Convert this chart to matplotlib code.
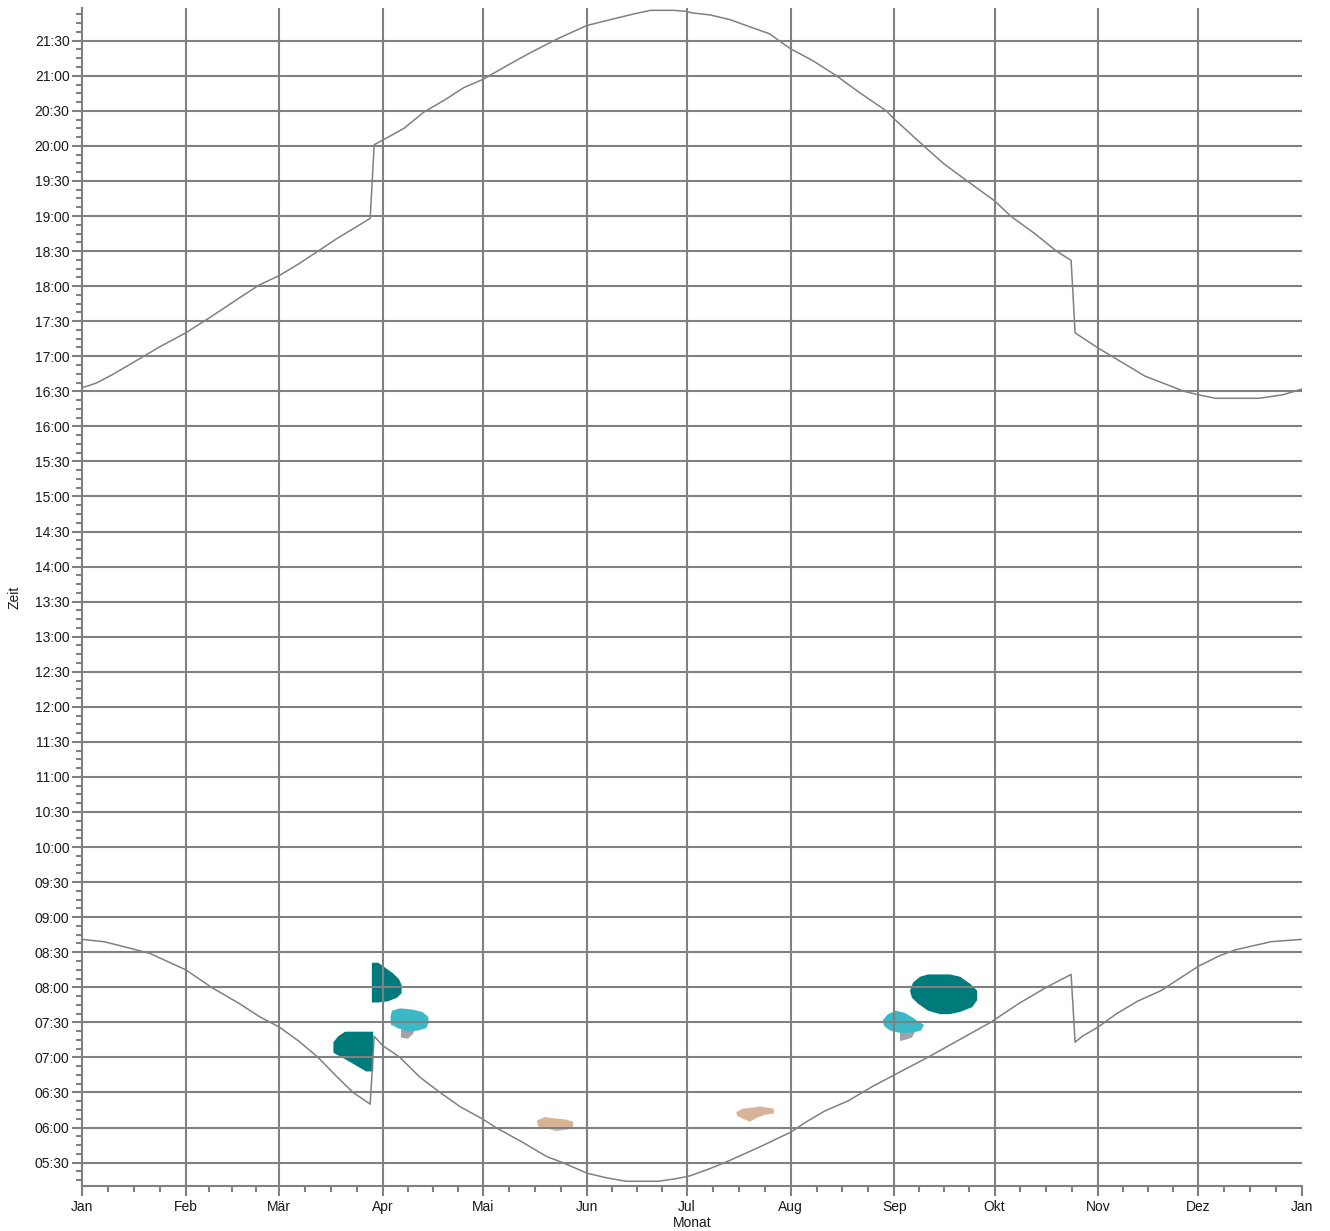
import matplotlib
matplotlib.use("Agg")
import matplotlib.pyplot as plt
from matplotlib.ticker import FixedLocator, FuncFormatter

plt.rcParams["font.family"] = ["Liberation Sans", "DejaVu Sans"]

# x axis: day of year (0 = 1 Jan), months as labels
MONTHS = ["Jan", "Feb", "Mär", "Apr", "Mai", "Jun", "Jul", "Aug", "Sep", "Okt", "Nov", "Dez", "Jan"]
MONTH_START = [0, 31, 59, 90, 120, 151, 181, 212, 243, 273, 304, 334, 365]

# sunset (upper line)
SUNSET_DAY = [0, 4.2, 8.9, 14.9, 23.2, 31, 38.7, 47.1, 53, 59, 64.8, 70.6, 76.4, 82.2, 86.2,
              87.4, 90, 96.3, 102.3, 108.3, 114.3, 120, 127.3, 134.3, 142.5, 151, 158, 165.2,
              170, 177.2, 181, 182.2, 188, 193.9, 199.7, 205.6, 212, 218.6, 225.7, 232.9, 240.6,
              243, 251.8, 257.7, 264.8, 273, 277.8, 285, 291.5, 295.9, 297.1, 304, 311, 318,
              329.7, 334, 339.1, 352.1, 359.2, 365]
SUNSET_TIME = ["16:33", "16:37", "16:44", "16:54", "17:08", "17:20", "17:34", "17:50", "18:01",
               "18:09", "18:19", "18:30", "18:41", "18:51", "18:58", "20:01", "20:05", "20:15",
               "20:29", "20:39", "20:50", "20:57", "21:09", "21:20", "21:32", "21:43", "21:48",
               "21:53", "21:56", "21:56", "21:55", "21:54", "21:52", "21:48", "21:42", "21:36",
               "21:23", "21:13", "21:00", "20:45", "20:30", "20:23", "20:00", "19:45", "19:30",
               "19:13", "19:00", "18:45", "18:30", "18:22", "17:20", "17:07", "16:55", "16:43",
               "16:30", "16:27", "16:24", "16:24", "16:27", "16:32"]

# sunrise (lower line)
SUNRISE_DAY = [0, 6.6, 14.9, 20.3, 25.6, 31, 38.7, 47.1, 53, 59, 64.8, 70.6, 76.4, 81.1, 86.2,
               87.4, 90, 95.1, 101.1, 107.1, 113, 120, 123.8, 132, 139.1, 143.8, 151, 156.8,
               162.8, 172.4, 177.2, 181, 182.2, 188, 193.9, 203.2, 212, 216.2, 222.1, 229.3,
               236.4, 243, 253, 262.4, 271.8, 280.2, 288.5, 295.9, 297.1, 299.2, 304, 309.3,
               315.7, 322.7, 334, 340.3, 345, 355.7, 365]
SUNRISE_TIME = ["8:41", "8:39", "8:33", "8:29", "8:22", "8:15", "8:00", "7:46", "7:35", "7:26",
                "7:14", "7:00", "6:43", "6:30", "6:20", "7:18", "7:10", "7:00", "6:43", "6:30",
                "6:18", "6:07", "6:00", "5:47", "5:35", "5:30", "5:21", "5:17", "5:14", "5:14",
                "5:16", "5:18", "5:19", "5:25", "5:32", "5:44", "5:56", "6:04", "6:14", "6:23",
                "6:35", "6:45", "7:00", "7:15", "7:30", "7:46", "8:00", "8:11", "7:13", "7:18",
                "7:26", "7:37", "7:48", "7:57", "8:18", "8:27", "8:32", "8:39", "8:41"]

# reflection periods (outline day / time of each patch)
SPRING_HIGH_DAY = [86.7, 88.6, 90.6, 93.0, 94.8, 95.6, 95.6, 94.2, 91.5, 88.6, 86.7]
SPRING_HIGH_TIME = ["8:21", "8:21", "8:17", "8:12", "8:07", "8:02", "7:55", "7:51", "7:48", "7:47", "7:47"]

SPRING_LOW_DAY = [87.1, 78.7, 76.6, 75.2, 75.2, 77.1, 80.2, 83.2, 85.0, 87.1]
SPRING_LOW_TIME = ["7:22", "7:22", "7:18", "7:13", "7:04", "7:01", "6:56", "6:51", "6:48", "6:48"]

SPRING_CYAN_DAY = [92.7, 95.1, 98.7, 101.7, 103.5, 103.8, 102.9, 100.5, 97.5, 94.5, 92.4, 92.3]
SPRING_CYAN_TIME = ["7:40", "7:42", "7:41", "7:39", "7:35", "7:30", "7:25", "7:23", "7:22", "7:25", "7:28", "7:35"]
SPRING_GREY_DAY = [95.4, 99.6, 99.0, 97.5, 95.4]
SPRING_GREY_TIME = ["7:24", "7:24", "7:20", "7:16", "7:17"]

MAY_TAN_DAY = [136.1, 138.5, 140.6, 144.5, 146.9, 146.9, 144.8, 141.8, 139.4, 136.4]
MAY_TAN_TIME = ["6:06", "6:09", "6:08", "6:07", "6:05", "6:00", "5:58", "5:57", "5:59", "6:01"]

JUL_TAN_DAY = [195.7, 197.5, 200.4, 202.8, 205.2, 207.0, 207.0, 204.4, 201.6, 199.8, 198.1, 196.0]
JUL_TAN_TIME = ["6:13", "6:16", "6:17", "6:18", "6:17", "6:16", "6:12", "6:11", "6:08", "6:05", "6:07", "6:10"]

SEP_CYAN_DAY = [239.6, 241.1, 243.5, 246.2, 248.6, 250.4, 251.9, 251.0, 248.3, 244.7, 241.7, 239.9]
SEP_CYAN_TIME = ["7:32", "7:37", "7:40", "7:38", "7:34", "7:30", "7:28", "7:23", "7:21", "7:21", "7:23", "7:27"]
SEP_GREY_DAY = [244.7, 249.2, 248.3, 246.2, 244.7]
SEP_GREY_TIME = ["7:22", "7:22", "7:17", "7:15", "7:14"]

SEP_HIGH_DAY = [247.7, 248.6, 250.7, 253.1, 259.7, 262.7, 265.7, 267.8, 267.8, 266.3, 262.7, 259.7,
                256.7, 253.1, 250.1, 248.3]
SEP_HIGH_TIME = ["7:57", "8:04", "8:09", "8:11", "8:11", "8:09", "8:03", "7:57", "7:49", "7:43",
                 "7:39", "7:37", "7:37", "7:40", "7:46", "7:51"]

Y_LIMITS = ["5:10", "21:58"]

TEAL = "#007b7b"
CYAN = "#3cb9c6"
GREY = "#a2a2a8"
TAN = "#d9b398"
LINE = "#808080"


def minutes(values):
    out = []
    for v in values:
        h, m = v.split(":")
        out.append(int(h) * 60 + int(m))
    return out


fig = plt.figure(figsize=(13.3, 12.31), dpi=100)
ax = fig.add_axes([0.0617, 0.0366, 0.9173, 0.9569])

patches = [
    (SPRING_HIGH_DAY, SPRING_HIGH_TIME, TEAL),
    (SPRING_LOW_DAY, SPRING_LOW_TIME, TEAL),
    (SPRING_GREY_DAY, SPRING_GREY_TIME, GREY),
    (SPRING_CYAN_DAY, SPRING_CYAN_TIME, CYAN),
    (MAY_TAN_DAY, MAY_TAN_TIME, TAN),
    (JUL_TAN_DAY, JUL_TAN_TIME, TAN),
    (SEP_GREY_DAY, SEP_GREY_TIME, GREY),
    (SEP_CYAN_DAY, SEP_CYAN_TIME, CYAN),
    (SEP_HIGH_DAY, SEP_HIGH_TIME, TEAL),
]
for days, times, color in patches:
    ax.fill(days, minutes(times), color=color, lw=0, zorder=1)

ax.plot(SUNSET_DAY, minutes(SUNSET_TIME), color=LINE, lw=1.1, zorder=3)
ax.plot(SUNRISE_DAY, minutes(SUNRISE_TIME), color=LINE, lw=1.1, zorder=3)

# grid: every month boundary and every half hour
for d in MONTH_START[1:-1]:
    ax.axvline(d, color=LINE, lw=1.5, zorder=2)
ax.yaxis.grid(True, color=LINE, lw=1.5, zorder=2)
ax.set_axisbelow(False)

ax.set_xlim(MONTH_START[0], MONTH_START[-1])
ax.set_ylim(*minutes(Y_LIMITS))

ax.xaxis.set_major_locator(FixedLocator(MONTH_START))
ax.set_xticklabels(MONTHS)
minor_x = []
for a, b in zip(MONTH_START[:-1], MONTH_START[1:]):
    minor_x += [a + (b - a) * k / 4 for k in (1, 2, 3)]
ax.xaxis.set_minor_locator(FixedLocator(minor_x))

lo, hi = minutes(Y_LIMITS)
major_y = [m for m in range(0, 24 * 60, 30) if lo <= m <= hi]
minor_y = [m * 7.5 for m in range(0, 192) if lo <= m * 7.5 <= hi]
ax.yaxis.set_major_locator(FixedLocator(major_y))
ax.yaxis.set_minor_locator(FixedLocator(minor_y))
ax.yaxis.set_major_formatter(FuncFormatter(lambda v, p: f"{int(v) // 60:02d}:{int(v) % 60:02d}"))

ax.tick_params(which="major", length=7, width=1.5, color=LINE, labelsize=10,
               labelcolor="#1a1a1a")
ax.tick_params(which="minor", length=4.3, width=1.5, color=LINE)
ax.tick_params(axis="y", which="major", pad=2)
ax.tick_params(axis="x", which="major", pad=3)

for s in ("top", "right"):
    ax.spines[s].set_visible(False)
for s in ("left", "bottom"):
    ax.spines[s].set_color(LINE)
    ax.spines[s].set_linewidth(1.5)

ax.set_xlabel("Monat", fontsize=10, color="#1a1a1a")
ax.set_ylabel("Zeit", fontsize=10, color="#1a1a1a")
ax.xaxis.set_label_coords(0.5, -0.0255)
ax.yaxis.set_label_coords(-0.050, 0.5)

fig.savefig("out.png", dpi=100, facecolor="white")
